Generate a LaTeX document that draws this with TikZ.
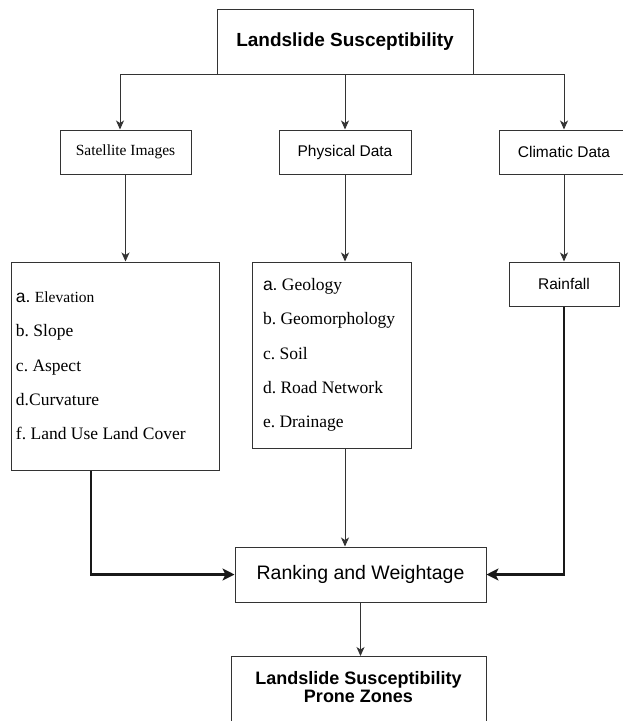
\documentclass[tikz,border=0pt]{standalone}
\usepackage{fontspec}
\setmainfont{Liberation Serif}
\setsansfont{Liberation Sans}
\usetikzlibrary{arrows.meta, positioning}
\tikzstyle{block} = [rectangle, draw=black!80, line width=1pt, inner sep=0pt, 
text centered, font=\sffamily\fontsize{15.5}{18}\selectfont]
\tikzstyle{listbox} = [rectangle, draw=black!80, line width=1pt, 
align=flush left, inner ysep=0pt, 
font=\rmfamily\frenchspacing\fontsize{17.5}{34.3}\selectfont]
\tikzstyle{arrow} = [line width=1pt, draw=black!80, 
-{Stealth[length=9pt,width=8pt,inset=2.5pt]}]
\tikzstyle{heavyarrow} = [line width=2.4pt, draw=black!90, 
-{Stealth[length=12pt,width=12pt,inset=3pt]}]

\begin{document}
\begin{tikzpicture}[x=1pt, y=-1pt]
\clip (0,0) rectangle (623,721);
% top level
\node[block, minimum width=256pt, minimum height=65pt, 
font=\sffamily\bfseries\fontsize{19}{22}\selectfont] (top) at (345,41.5) 
{Landslide Susceptibility};
% data sources
\node[block, minimum width=131pt, minimum height=44pt, 
font=\rmfamily\fontsize{15.5}{18}\selectfont] (sat) at (125.5,152) 
{Satellite Images};
\node[block, minimum width=132pt, minimum height=44pt] (phys) at (345,152) 
{Physical Data};
\node[block, minimum width=130pt, minimum height=44pt] (clim) at (564,152) 
{Climatic Data};
% layers
\node[listbox, minimum height=208pt, text width=198pt, inner xsep=5pt] (lst) 
at (115,366) {{\sffamily a.} {\fontsize{15.5}{34.3}\selectfont Elevation}\\
b. Slope\\ c. Aspect\\ d.Curvature\\ f. Land Use Land Cover};
\node[listbox, minimum height=186pt, text width=137pt, inner xsep=11pt] (mid) 
at (331.5,355) {{\sffamily a.} Geology\\ b. Geomorphology\\ c. Soil\\
d. Road Network\\ e. Drainage};
\node[block, minimum width=110pt, minimum height=44pt] (rain) at (564,284) 
{Rainfall};
% result
\node[block, minimum width=251pt, minimum height=55pt, 
font=\sffamily\fontsize{19.5}{22}\selectfont] (rank) at (360.5,574.5) 
{Ranking and Weightage};
\node[block, minimum width=255pt, minimum height=80pt, anchor=north, 
label={[anchor=north, yshift=-15pt, align=center, inner sep=0pt, 
font=\sffamily\bfseries\fontsize{18}{18}\selectfont]north:{Landslide 
Susceptibility\\ Prone Zones}}] (zones) at (358.5,656) {};

\draw[arrow] (top.south) -- (phys.north);
\draw[arrow] (top.south) -| ([xshift=-5.5pt]sat.north);
\draw[arrow] (top.south) -| (clim.north);
\draw[arrow] (sat.south) -- (sat.south |- lst.north);
\draw[arrow] (phys.south) -- (phys.south |- mid.north);
\draw[arrow] (clim.south) -- (rain.north);
\draw[heavyarrow] ([xshift=-24pt]lst.south) |- (rank.west);
\draw[heavyarrow] (rain.south) |- (rank.east);
\draw[arrow] (phys.south |- mid.south) -- (phys.south |- rank.north);
\draw[arrow] (rank.south) -- (rank.south |- zones.north);
\end{tikzpicture}
\end{document}
